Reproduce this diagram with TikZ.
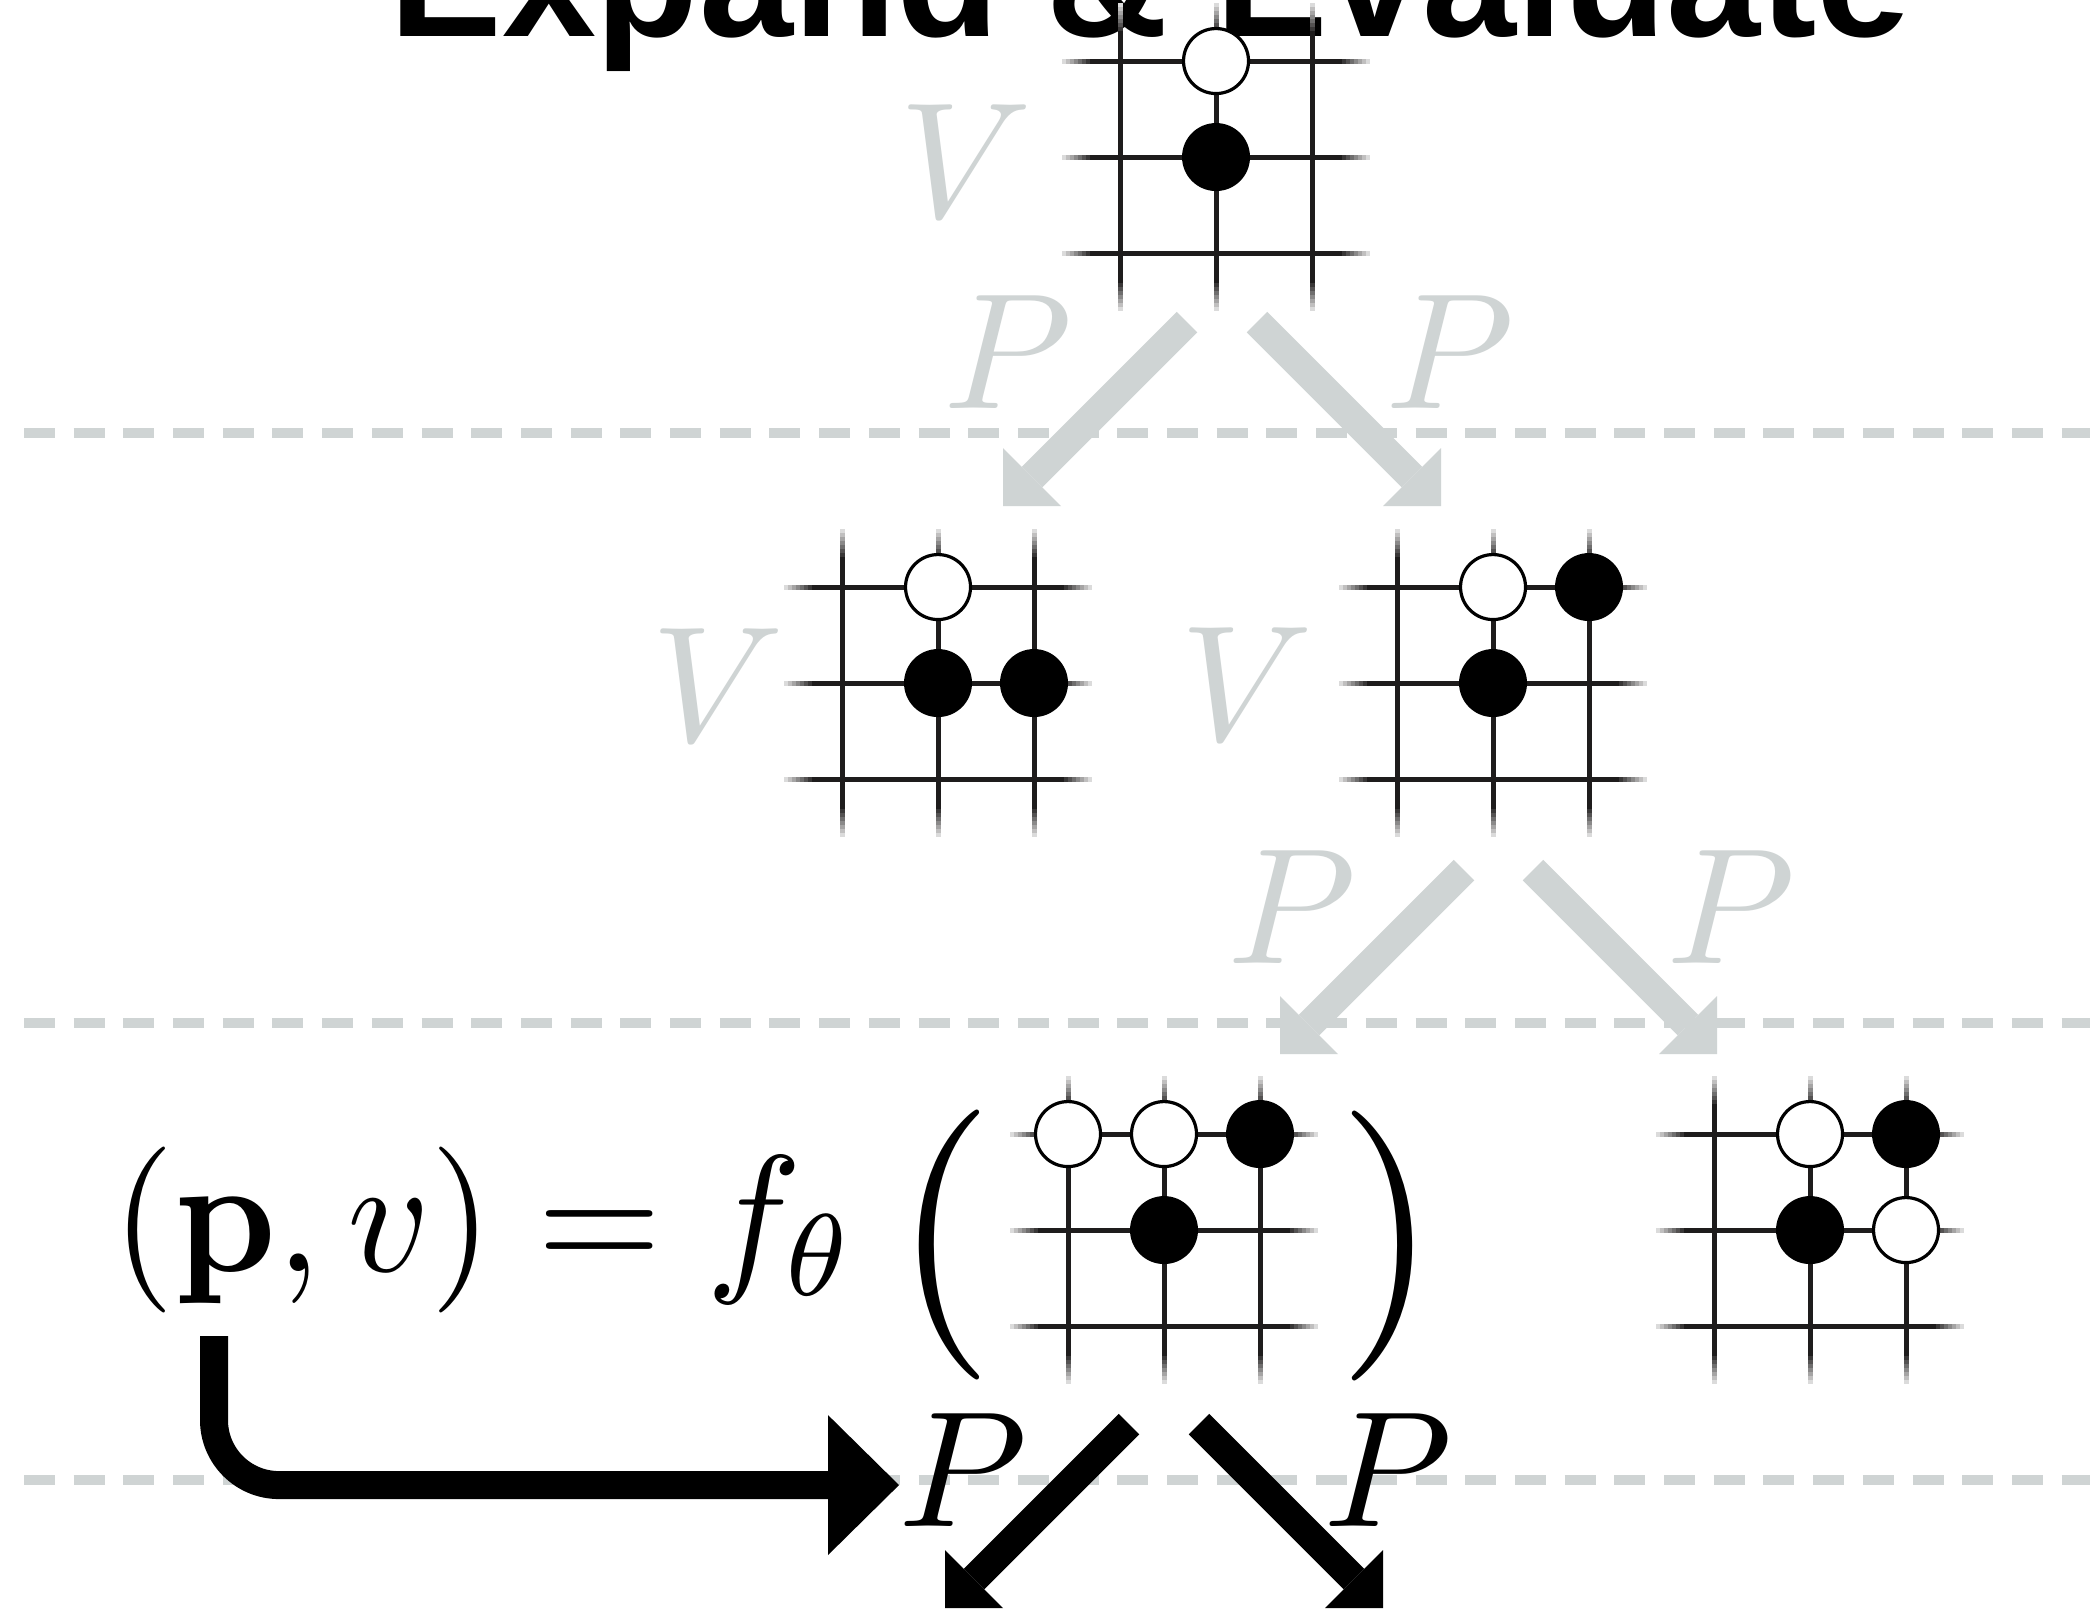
\documentclass[tikz,border=0pt]{standalone}
\usepackage{fix-cm}
\usepackage[no-math]{fontspec}
\usepackage{graphicx}
\newfontfamily\titlefam{Liberation Sans}
\usetikzlibrary{arrows.meta}
\definecolor{lgray}{RGB}{207,212,212}
\definecolor{gline}{RGB}{30,28,28}
\newcommand{\titlesz}{\titlefam\bfseries\fontsize{16.9}{20}\selectfont}
\newcommand{\mlabel}[1]{\scalebox{1.65}{$#1$}}
\tikzset{
  gridline/.style={draw=gline, line width=0.5pt},
  wstone/.style={draw=black, fill=white, line width=0.32pt},
  bstone/.style={fill=black},
  dashrule/.style={draw=lgray, line width=1pt, dash pattern=on 3.1pt off 1.87pt},
  smalltip/.style={-{Triangle[length=4.1pt,width=8.2pt,line width'=0pt]}},
  grayarrow/.style={draw=lgray, line width=2.9pt, smalltip},
  blackarrow/.style={draw=black, line width=2.9pt, smalltip},
  glabel/.style={text=lgray, inner sep=0pt, anchor=base},
  blabel/.style={text=black, inner sep=0pt, anchor=base},
  goboard/.pic={
    \foreach \r in {0,96,192} {
      \path[gridline] (-26,\r) -- (218,\r);
      \path[gridline] (\r,-26) -- (\r,218);
      \foreach \k [evaluate=\k as \shadev using {100-12*\k}] in {0,...,7} {
        \path[gridline, draw=gline!\shadev!white] (-26-4*\k,\r) -- (-30-4*\k,\r);
        \path[gridline, draw=gline!\shadev!white] (218+4*\k,\r) -- (222+4*\k,\r);
        \path[gridline, draw=gline!\shadev!white] (\r,-26-4*\k) -- (\r,-30-4*\k);
        \path[gridline, draw=gline!\shadev!white] (\r,218+4*\k) -- (\r,222+4*\k);
      }
    }
  }
}
\begin{document}
\begin{tikzpicture}[x=0.1pt, y=-0.1pt]
\useasboundingbox (0,0) rectangle (2090,1618);
\fill[white] (0,0) rectangle (2090,1618);

% dashed level separators
\draw[dashrule] (24,433) -- (2090,433);
\draw[dashrule] (24,1023) -- (2090,1023);
\draw[dashrule] (24,1480) -- (2090,1480);

% title
\node[anchor=base, inner sep=0pt, font=\titlesz] (title) at (1150,36) {Expand \& Evaluate};

% boards
\pic at (1120,61) {goboard};
\pic at (842,587) {goboard};
\pic at (1397,587) {goboard};
\pic at (1068,1134) {goboard};
\pic at (1714,1134) {goboard};

% stones
\draw[wstone] (1216,61) circle[radius=32.5];
\fill[bstone] (1216,157) circle[radius=34];

\draw[wstone] (938,587) circle[radius=32.5];
\fill[bstone] (938,683) circle[radius=34];
\fill[bstone] (1034,683) circle[radius=34];

\draw[wstone] (1493,587) circle[radius=32.5];
\fill[bstone] (1589,587) circle[radius=34];
\fill[bstone] (1493,683) circle[radius=34];

\draw[wstone] (1068,1134) circle[radius=32.5];
\draw[wstone] (1164,1134) circle[radius=32.5];
\fill[bstone] (1260,1134) circle[radius=34];
\fill[bstone] (1164,1230) circle[radius=34];

\draw[wstone] (1810,1134) circle[radius=32.5];
\fill[bstone] (1906,1134) circle[radius=34];
\fill[bstone] (1810,1230) circle[radius=34];
\draw[wstone] (1906,1230) circle[radius=32.5];

% value labels
\node[glabel] (v0) at (966,217) {\mlabel{V}};
\node[glabel] (v1) at (718,741) {\mlabel{V}};
\node[glabel] (v2) at (1247,740) {\mlabel{V}};

% policy labels
\node[glabel] (p0l) at (1008,408) {\mlabel{P}};
\node[glabel] (p0r) at (1450,408) {\mlabel{P}};
\node[glabel] (p1l) at (1292,963) {\mlabel{P}};
\node[glabel] (p1r) at (1731,963) {\mlabel{P}};
\node[blabel] (p2l) at (963,1526) {\mlabel{P}};
\node[blabel] (p2r) at (1388,1526) {\mlabel{P}};

% arrow end points
\coordinate (a0ls) at (1187,322); \coordinate (a0le) at (1003,506);
\coordinate (a0rs) at (1257,322); \coordinate (a0re) at (1441,506);
\coordinate (a1ls) at (1464,870); \coordinate (a1le) at (1280,1054);
\coordinate (a1rs) at (1533,870); \coordinate (a1re) at (1717,1054);
\coordinate (a2ls) at (1129,1424); \coordinate (a2le) at (945,1608);
\coordinate (a2rs) at (1199,1424); \coordinate (a2re) at (1383,1608);

\draw[grayarrow] (a0ls) -- (a0le);
\draw[grayarrow] (a0rs) -- (a0re);
\draw[grayarrow] (a1ls) -- (a1le);
\draw[grayarrow] (a1rs) -- (a1re);
\draw[blackarrow] (a2ls) -- (a2le);
\draw[blackarrow] (a2rs) -- (a2re);

% network formula
\node[anchor=base west, inner sep=0pt] (formula) at (110,1271) {\scalebox{1.6}[1.66]{$(\mathbf{p},v)=f_\theta$}};
\node[inner sep=0pt] (lpar) at (944,1245) {\scalebox{2.6}[2.7]{(}};
\node[inner sep=0pt] (rpar) at (1388,1246) {\scalebox{2.6}[2.7]{)}};

% bent arrow from p to the policy output
\coordinate (pstart) at (214,1336);
\coordinate (pend) at (899,1485);
\draw[line width=2.8pt, rounded corners=6.5pt, -{Triangle[length=7.1pt,width=14pt,line width'=0pt]}] (pstart) |- (pend);
\end{tikzpicture}
\end{document}
